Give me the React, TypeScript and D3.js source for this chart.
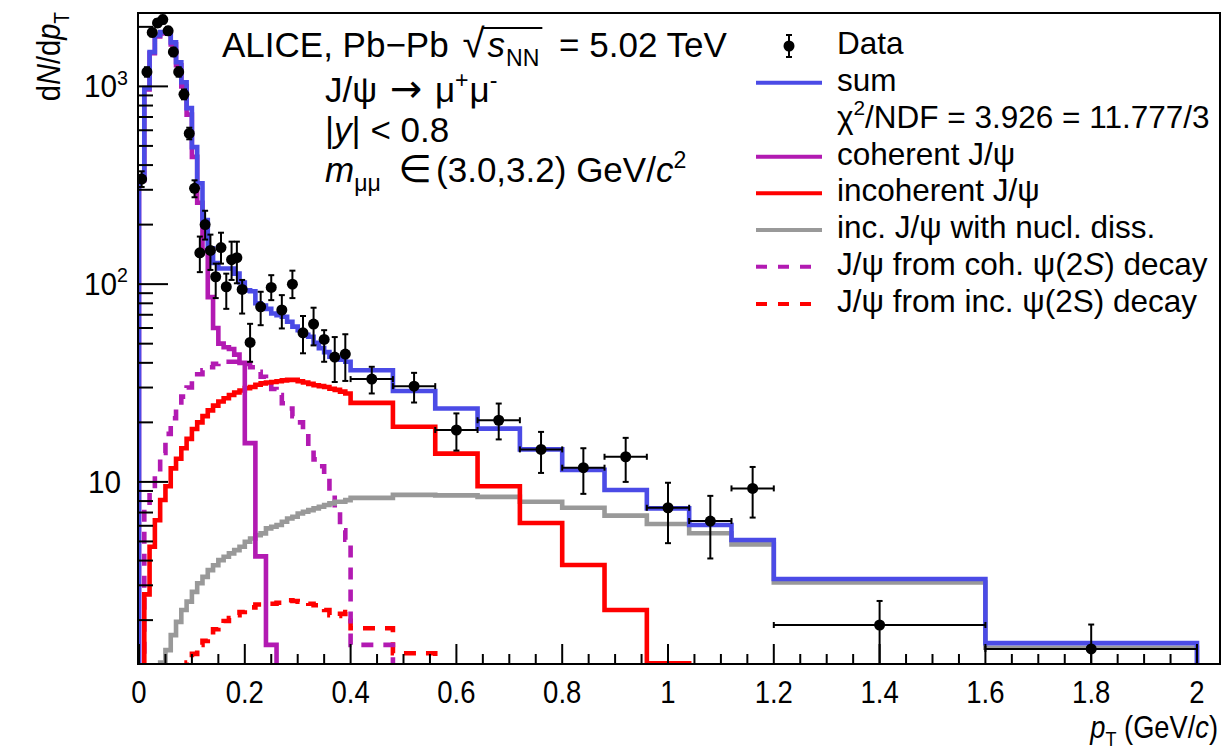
import React, { useEffect, useRef } from 'react';
import * as d3 from 'd3';

const W = 1222;
const H = 750;
const FONT = "'Liberation Sans', Arial, Helvetica, sans-serif";

// ---- model histogram binning (pT, GeV/c) ----
const fineEdges = [
  0, 0.01, 0.02, 0.03, 0.04, 0.05, 0.06, 0.07, 0.08, 0.09, 0.1, 0.11, 0.12, 0.13, 0.14,
  0.15, 0.16, 0.17, 0.18, 0.19, 0.2, 0.21, 0.22, 0.23, 0.24, 0.25, 0.26, 0.27, 0.28, 0.29,
  0.3, 0.31, 0.32, 0.33, 0.34, 0.35, 0.36, 0.37, 0.38, 0.39, 0.4,
];
const coarseEdges = [0.48, 0.56, 0.64, 0.72, 0.8, 0.88, 0.96, 1.04, 1.12, 1.2, 1.6, 2.0];
const modelEdges = [...fineEdges, ...coarseEdges];

// ---- model series (dN/dpT per bin; 0 = below the axis) ----
const sumVals = [
  340, 980, 1490, 1815, 1880, 1880, 1670, 1325, 1050, 776, 493, 324, 211, 152, 128, 120, 120, 120,
  113, 102, 93, 92, 80, 78, 75, 71, 69.7, 68.4, 64.5, 61, 58.5, 55.5, 54.2, 50.5, 47.5, 45.3, 43,
  42.3, 41.5, 40.5, 36.7, 28.8, 23.5, 18.6, 14.6, 11.5, 9.1, 7.35, 6.05, 5.08, 3.23, 1.53,
];
const cohVals = [
  335, 965, 1470, 1790, 1850, 1850, 1630, 1280, 1000, 720, 440, 258, 148, 86, 60, 50, 48, 47, 44,
  40, 15.7, 15.7, 4.2, 4.2, 1.5, 1.5, 0, 0, 0, 0, 0, 0, 0, 0, 0, 0, 0, 0, 0, 0, 0, 0, 0, 0, 0, 0,
  0, 0, 0, 0, 0, 0,
];
const incVals = [
  0, 2.7, 4.7, 6.4, 8.1, 9.5, 11.7, 13.1, 14.8, 16.5, 18.5, 20, 21.5, 23, 24.3, 25.5, 26.5, 27.5,
  28.3, 29, 29.8, 30.2, 31, 31.5, 31.8, 32, 32.3, 32.6, 32.8, 32.8, 32.3, 31.8, 31.3, 30.8, 30.5,
  30.2, 29.6, 29.2, 28.6, 28, 25.1, 19, 13.9, 9.5, 6.2, 3.8, 2.25, 1.21, 0, 0, 0, 0,
];
const dissVals = [
  0, 0, 0, 0, 1.22, 1.41, 1.68, 1.96, 2.25, 2.48, 2.78, 3.07, 3.31, 3.58, 3.79, 4.02, 4.18, 4.35,
  4.52, 4.7, 4.98, 5.17, 5.38, 5.49, 5.82, 5.93, 6.05, 6.29, 6.53, 6.66, 6.92, 7.06, 7.2, 7.35,
  7.49, 7.64, 7.79, 7.94, 7.94, 8.09, 8.3, 8.6, 8.55, 8.4, 7.94, 7.4, 6.75, 6.12, 5.5, 4.83, 3.1,
  1.45,
];
const cohPsi2SVals = [
  0, 7.5, 9, 11, 14, 17.5, 21, 24, 27, 30, 32.5, 35, 36.7, 38, 39.5, 40, 40.5, 40.5, 40.5, 40,
  39.5, 38, 36, 34, 32, 29.5, 27.5, 25, 23.5, 21.5, 20, 18.3, 14.5, 13, 12, 10.8, 8.8, 7.2, 5.7,
  5.1, 1.5, 0, 0, 0, 0, 0, 0, 0, 0, 0, 0, 0,
];
const incPsi2SVals = [
  0, 0, 0, 0, 0, 0, 0, 0, 0, 1.22, 1.35, 1.5, 1.57, 1.64, 1.8, 1.9, 1.98, 2.05, 2.12, 2.2, 2.25,
  2.32, 2.4, 2.4, 2.42, 2.42, 2.45, 2.48, 2.52, 2.5, 2.48, 2.48, 2.42, 2.38, 2.35, 2.25, 2.12,
  2.1, 2.15, 2.2, 1.82, 1.36, 0, 0, 0, 0, 0, 0, 0, 0, 0, 0,
];

// ---- data points ----
const dataPt = [
  0.005, 0.015, 0.025, 0.035, 0.045, 0.055, 0.065, 0.075, 0.085, 0.095, 0.105, 0.115, 0.125,
  0.135, 0.145, 0.155, 0.165, 0.175, 0.185, 0.195, 0.21, 0.23, 0.25, 0.27, 0.29, 0.31, 0.33,
  0.35, 0.37, 0.39, 0.44, 0.52, 0.6, 0.68, 0.76, 0.84, 0.92, 1.0, 1.08, 1.16, 1.4, 1.8,
];
const dataHalfWidth = [
  0.005, 0.005, 0.005, 0.005, 0.005, 0.005, 0.005, 0.005, 0.005, 0.005, 0.005, 0.005, 0.005,
  0.005, 0.005, 0.005, 0.005, 0.005, 0.005, 0.005, 0.01, 0.01, 0.01, 0.01, 0.01, 0.01, 0.01,
  0.01, 0.01, 0.01, 0.04, 0.04, 0.04, 0.04, 0.04, 0.04, 0.04, 0.04, 0.04, 0.04, 0.2, 0.2,
];
const dataVal = [
  340, 1183, 1873, 2094, 2178, 1909, 1493, 1183, 912, 578, 305, 144, 200, 148, 109, 153, 97, 133,
  136, 94, 50.7, 76.8, 96.2, 74, 100, 56.7, 62.8, 52.5, 42.8, 44.3, 33.1, 30.5, 18.3, 20.5, 14.6,
  11.8, 13.4, 7.4, 6.34, 9.27, 1.89, 1.43,
];
const dataLo = [
  310, 1120, 1790, 2000, 2080, 1820, 1420, 1120, 860, 540, 275, 115, 168, 118, 85, 127, 75, 105,
  101, 71, 40.5, 62, 83, 59.7, 85, 44.7, 49, 40.5, 32, 32.4, 28, 25.2, 14.4, 16.4, 11.1, 8.7, 10,
  4.9, 4.1, 6.6, 0.8, 0.8,
];
const dataHi = [
  372, 1250, 1960, 2190, 2280, 2000, 1570, 1250, 965, 618, 335, 174, 235, 178, 127, 182, 113, 164,
  164, 105, 63, 91.5, 111, 88, 117, 69, 76, 58.5, 54, 55.8, 38.2, 35.6, 22.2, 24.9, 17.9, 14.8,
  16.7, 9.9, 8.5, 11.9, 2.5, 1.9,
];

// ---- axes ----
const xTickLabels = ['0', '0.2', '0.4', '0.6', '0.8', '1', '1.2', '1.4', '1.6', '1.8', '2'];
const xTickValues = [0, 0.2, 0.4, 0.6, 0.8, 1.0, 1.2, 1.4, 1.6, 1.8, 2.0];
const yTickValues = [10, 100, 1000];
const yTickExp = ['', '2', '3'];

// ---- colours ----
const C_SUM = '#4b4be6';
const C_COH = '#b21ab2';
const C_INC = '#ff0000';
const C_DISS = '#999999';

type Part = { t: string; it?: boolean; sub?: boolean; sup?: boolean; dx?: number; fam?: string; scale?: number };

function rich(
  parent: any,
  parts: Part[],
  x: number,
  y: number,
  size: number,
  anchor: 'start' | 'end' | 'middle' = 'start',
  sx = 1,
) {
  const g = parent.append('g').attr('transform', `translate(${x},${y}) scale(${sx},1)`);
  const inner = g.append('g');
  let cx = 0;
  const spans: { x0: number; x1: number }[] = [];
  parts.forEach((p) => {
    cx += p.dx || 0;
    const fs = (p.sub || p.sup ? size * 0.66 : size) * (p.scale || 1);
    const dy = p.sub ? size * 0.27 : p.sup ? -size * 0.4 : 0;
    const t = inner
      .append('text')
      .attr('x', cx)
      .attr('y', dy)
      .attr('font-size', fs)
      .attr('font-family', p.fam || FONT)
      .attr('font-style', p.it ? 'italic' : 'normal')
      .attr('fill', '#000')
      .style('white-space', 'pre')
      .text(p.t);
    const w = (t.node() as SVGTextElement).getComputedTextLength();
    spans.push({ x0: cx, x1: cx + w });
    cx += w;
  });
  const off = anchor === 'end' ? -cx : anchor === 'middle' ? -cx / 2 : 0;
  inner.attr('transform', `translate(${off},0)`);
  return { g, inner, width: cx, spans };
}

export default function App() {
  const ref = useRef<SVGSVGElement | null>(null);

  useEffect(() => {
    const svg = d3.select(ref.current);
    svg.selectAll('*').remove();

    const frameL = 138;
    const frameR = 1220;
    const frameT = 13;
    const frameB = 664;

    const x = d3.scaleLinear().domain([0, 2]).range([139, 1197]);
    const y = d3.scaleLog().domain([1.2, 2350]).range([frameB, frameT]);
    const yv = (v: number) => (v > 0 ? y(v) : y(0.4));

    svg.append('rect').attr('width', W).attr('height', H).attr('fill', '#fff');

    const defs = svg.append('defs');
    defs
      .append('clipPath')
      .attr('id', 'frameClip')
      .append('rect')
      .attr('x', frameL)
      .attr('y', frameT)
      .attr('width', frameR - frameL)
      .attr('height', frameB - frameT);

    const plot = svg.append('g').attr('clip-path', 'url(#frameClip)');

    const histPath = (vals: number[]) => {
      const p = d3.path();
      p.moveTo(x(modelEdges[0]), yv(0));
      vals.forEach((v, i) => {
        p.lineTo(x(modelEdges[i]), yv(v));
        p.lineTo(x(modelEdges[i + 1]), yv(v));
      });
      p.lineTo(x(modelEdges[modelEdges.length - 1]), yv(0));
      return p.toString();
    };

    const series = [
      { vals: incPsi2SVals, color: C_INC, dash: '12,10' },
      { vals: cohPsi2SVals, color: C_COH, dash: '12,10' },
      { vals: dissVals, color: C_DISS, dash: null },
      { vals: incVals, color: C_INC, dash: null },
      { vals: cohVals, color: C_COH, dash: null },
      { vals: sumVals, color: C_SUM, dash: null },
    ];
    series.forEach((s) => {
      plot
        .append('path')
        .attr('d', histPath(s.vals))
        .attr('fill', 'none')
        .attr('stroke', s.color)
        .attr('stroke-width', 4.6)
        .attr('stroke-linejoin', 'miter')
        .attr('stroke-dasharray', s.dash);
    });

    // data points
    const dg = plot.append('g');
    const cap = 3;
    dataPt.forEach((pt, i) => {
      const cx = x(pt);
      const cy = y(dataVal[i]);
      const yl = y(dataLo[i]);
      const yh = y(dataHi[i]);
      dg.append('line').attr('x1', cx).attr('x2', cx).attr('y1', yl).attr('y2', yh)
        .attr('stroke', '#000').attr('stroke-width', 2);
      dg.append('line').attr('x1', cx - cap).attr('x2', cx + cap).attr('y1', yh).attr('y2', yh)
        .attr('stroke', '#000').attr('stroke-width', 2);
      dg.append('line').attr('x1', cx - cap).attr('x2', cx + cap).attr('y1', yl).attr('y2', yl)
        .attr('stroke', '#000').attr('stroke-width', 2);
      const hw = x(pt + dataHalfWidth[i]) - cx;
      if (hw > 7) {
        dg.append('line').attr('x1', cx - hw).attr('x2', cx + hw).attr('y1', cy).attr('y2', cy)
          .attr('stroke', '#000').attr('stroke-width', 2);
        [cx - hw, cx + hw].forEach((ex) =>
          dg.append('line').attr('x1', ex).attr('x2', ex).attr('y1', cy - cap).attr('y2', cy + cap)
            .attr('stroke', '#000').attr('stroke-width', 2),
        );
      }
      dg.append('circle').attr('cx', cx).attr('cy', cy).attr('r', 5.5).attr('fill', '#000');
    });

    // frame
    svg.append('rect').attr('x', frameL).attr('y', frameT).attr('width', frameR - frameL)
      .attr('height', frameB - frameT).attr('fill', 'none').attr('stroke', '#000').attr('stroke-width', 2);

    // x ticks
    const ax = svg.append('g');
    const minorX = d3.range(0, 41).map((i) => i * 0.05);
    minorX.forEach((v) => {
      const major = Math.abs(v / 0.2 - Math.round(v / 0.2)) < 1e-6;
      ax.append('line').attr('x1', x(v)).attr('x2', x(v)).attr('y1', frameB)
        .attr('y2', frameB - (major ? 20 : 10)).attr('stroke', '#000').attr('stroke-width', 2);
    });
    xTickValues.forEach((v, i) => {
      rich(ax, [{ t: xTickLabels[i] }], x(v), 703, 32, 'middle', 0.86);
    });

    // y ticks
    const minorY: number[] = [];
    [1, 10, 100, 1000].forEach((dec) => {
      for (let k = 1; k <= 9; k++) {
        const v = dec * k;
        if (v >= 1.2 && v <= 2350) minorY.push(v);
      }
    });
    minorY.forEach((v) => {
      const major = yTickValues.includes(v);
      ax.append('line').attr('x1', frameL).attr('x2', frameL + (major ? 30 : 15))
        .attr('y1', y(v)).attr('y2', y(v)).attr('stroke', '#000').attr('stroke-width', 2);
    });
    yTickValues.forEach((v, i) => {
      if (yTickExp[i]) {
        rich(ax, [{ t: '10' }, { t: yTickExp[i], sup: true }], 128, y(v) + 11, 32, 'end', 0.93);
      } else {
        rich(ax, [{ t: '10' }], 121, y(v) + 11, 32, 'end', 0.93);
      }
    });

    // axis titles
    rich(svg, [{ t: 'p', it: true }, { t: 'T', sub: true }, { t: ' (GeV/' }, { t: 'c', it: true }, { t: ')' }],
      1218, 738, 31, 'end', 0.88);
    const yt = svg.append('g').attr('transform', 'translate(60,12) rotate(-90)');
    rich(yt, [{ t: 'd' }, { t: 'N', it: true }, { t: '/d' }, { t: 'p', it: true }, { t: 'T', sub: true }],
      0, 0, 33, 'end', 0.88);

    // annotations
    const AS = 35;
    const tx = svg.append('g');
    const al = rich(tx, [
      { t: 'ALICE, Pb\u2212Pb ' },
      { t: '\u221A', scale: 1.15, dx: 4 },
      { t: 's', it: true, dx: 3 },
      { t: 'NN', sub: true, dx: 1 },
      { t: ' = 5.02 TeV', dx: 10 },
    ], 222, 57, AS);
    al.inner.append('line')
      .attr('x1', al.spans[1].x1 - 2).attr('x2', al.spans[3].x1 + 3)
      .attr('y1', -29).attr('y2', -29).attr('stroke', '#000').attr('stroke-width', 1.8);
    rich(tx, [
      { t: 'J/\u03C8 ' },
      { t: '\u2192', fam: "'DejaVu Sans', sans-serif", scale: 1.1, dx: 3 }, { t: ' \u03BC', dx: 3 },
      { t: '+', sup: true },
      { t: '\u03BC', dx: 1 }, { t: '-', sup: true },
    ], 325, 102, AS);
    rich(tx, [{ t: '|' }, { t: 'y', it: true }, { t: '| < 0.8' }], 325, 142, AS);
    rich(tx, [
      { t: 'm', it: true }, { t: '\u03BC\u03BC', sub: true },
      { t: ' ' }, { t: '\u2208', fam: "'DejaVu Sans', sans-serif", scale: 1.1, dx: 8 },
      { t: '(3.0,3.2) GeV/', dx: 4 },
      { t: 'c', it: true }, { t: '2', sup: true },
    ], 325, 182, AS);

    // legend
    const lg = svg.append('g');
    const lx0 = 756;
    const lx1 = 822;
    const tX = 837;
    const rows = [46, 82.7, 119.5, 156.7, 193.3, 230, 266.7, 304];
    lg.append('line').attr('x1', 789).attr('x2', 789).attr('y1', 35).attr('y2', 57)
      .attr('stroke', '#000').attr('stroke-width', 2);
    [35, 57].forEach((yy) => lg.append('line').attr('x1', 786).attr('x2', 792)
      .attr('y1', yy).attr('y2', yy).attr('stroke', '#000').attr('stroke-width', 2));
    lg.append('circle').attr('cx', 789).attr('cy', 46).attr('r', 5.5).attr('fill', '#000');
    const legLines = [
      { row: 1, color: C_SUM, dash: null },
      { row: 3, color: C_COH, dash: null },
      { row: 4, color: C_INC, dash: null },
      { row: 5, color: C_DISS, dash: null },
      { row: 6, color: C_COH, dash: '11,11' },
      { row: 7, color: C_INC, dash: '11,11' },
    ];
    legLines.forEach((l) => {
      lg.append('line').attr('x1', lx0).attr('x2', lx1).attr('y1', rows[l.row]).attr('y2', rows[l.row])
        .attr('stroke', l.color).attr('stroke-width', 4).attr('stroke-dasharray', l.dash);
    });
    const legTexts: Part[][] = [
      [{ t: 'Data' }],
      [{ t: 'sum' }],
      [{ t: '\u03C7' }, { t: '2', sup: true }, { t: '/NDF = 3.926 = 11.777/3' }],
      [{ t: 'coherent J/\u03C8' }],
      [{ t: 'incoherent J/\u03C8' }],
      [{ t: 'inc. J/\u03C8 with nucl. diss.' }],
      [{ t: 'J/\u03C8 from coh. \u03C8(2' }, { t: 'S', it: true }, { t: ') decay' }],
      [{ t: 'J/\u03C8 from inc. \u03C8(2S) decay' }],
    ];
    legTexts.forEach((parts, i) => rich(lg, parts, tX, rows[i] + 8, 31.5));
  }, []);

  return (
    <svg
      ref={ref}
      width={W}
      height={H}
      style={{ position: 'fixed', left: 0, top: 0, display: 'block' }}
    />
  );
}
